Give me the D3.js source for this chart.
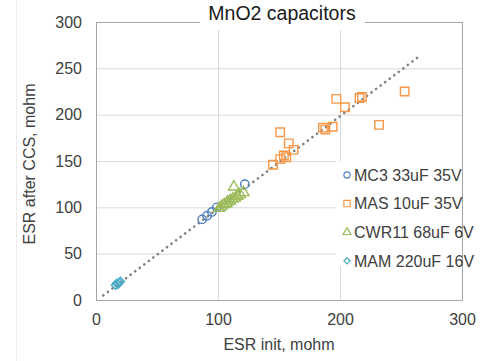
<!DOCTYPE html>
<html>
<head>
<meta charset="utf-8">
<script src="https://cdn.jsdelivr.net/npm/d3@7"></script>
<style>
  html, body { margin: 0; padding: 0; background: #fff; }
  svg { display: block; font-family: "Liberation Sans", Arial, sans-serif; }
</style>
</head>
<body>
<svg id="chart" width="497" height="361"></svg>
<script>
// ESR before and after current-surge screening, in mohm: [init, after]
const mc3 = [[87, 87], [91, 91], [95, 95], [99, 100], [122, 125]];
const mas = [
  [145, 146], [151, 152], [154, 156], [156, 154], [158, 169], [162, 162],
  [151, 181], [186, 186], [188, 184], [194, 187], [197, 217], [204, 208],
  [216, 218], [218, 219], [232, 189], [253, 225]
];
const cwr11 = [
  [101, 99], [103, 101], [105, 103], [107, 104], [108, 106], [110, 107],
  [112, 109], [114, 110], [116, 112], [118, 114], [121, 116], [113, 122]
];
const mam = [[16, 16], [17, 18], [18, 17], [19, 19], [20, 20]];

const seriesNames = ["MC3 33uF 35V", "MAS 10uF 35V", "CWR11 68uF 6V", "MAM 220uF 16V"];
const seriesColors = ["#4F81BD", "#F79646", "#9BBB59", "#4BACC6"];
const seriesShapes = ["circle", "square", "triangle", "diamond"];
const seriesData = [mc3, mas, cwr11, mam];

const xTicks = [0, 100, 200, 300];
const yTicks = [0, 50, 100, 150, 200, 250, 300];
const trendEnds = [[6, 5], [265, 263]];

const chartTitle = "MnO2 capacitors";
const xTitle = "ESR init, mohm";
const yTitle = "ESR after CCS, mohm";

const svg = d3.select("#chart");
const plot = { left: 96, right: 462, top: 22, bottom: 300 };

const x = d3.scaleLinear().domain([0, 300]).range([plot.left, plot.right]);
const y = d3.scaleLinear().domain([0, 300]).range([plot.bottom, plot.top]);

// faint outer frame edge
svg.append("line")
  .attr("x1", 16.5).attr("x2", 16.5).attr("y1", 0).attr("y2", 361)
  .attr("stroke", "#ececec").attr("stroke-width", 1);

// gridlines
svg.append("g")
  .attr("transform", `translate(0,${plot.bottom})`)
  .call(d3.axisBottom(x).tickValues(xTicks.slice(1, -1)).tickSize(-(plot.bottom - plot.top)).tickFormat(""))
  .call(g => g.select(".domain").remove())
  .call(g => g.selectAll("line").attr("stroke", "#d9d9d9"));
svg.append("g")
  .attr("transform", `translate(${plot.left},0)`)
  .call(d3.axisLeft(y).tickValues(yTicks.slice(1, -1)).tickSize(-(plot.right - plot.left)).tickFormat(""))
  .call(g => g.select(".domain").remove())
  .call(g => g.selectAll("line").attr("stroke", "#d9d9d9"));

// plot border
svg.append("rect")
  .attr("x", plot.left + 0.5).attr("y", plot.top + 0.5)
  .attr("width", plot.right - plot.left).attr("height", plot.bottom - plot.top)
  .attr("fill", "none").attr("stroke", "#a6a6a6").attr("stroke-width", 1);

// tick labels
svg.append("g")
  .attr("transform", `translate(0,${plot.bottom})`)
  .call(d3.axisBottom(x).tickValues(xTicks).tickSize(0).tickPadding(14))
  .call(g => g.select(".domain").remove())
  .call(g => g.selectAll("text").attr("font-size", 16).attr("fill", "#404040")
    .attr("font-family", "Liberation Sans, Arial, sans-serif"));
svg.append("g")
  .attr("transform", `translate(${plot.left},0)`)
  .call(d3.axisLeft(y).tickValues(yTicks).tickSize(0).tickPadding(14))
  .call(g => g.select(".domain").remove())
  .call(g => g.selectAll("text").attr("font-size", 16).attr("fill", "#404040")
    .attr("font-family", "Liberation Sans, Arial, sans-serif"));

// linear trend line
svg.append("line")
  .attr("x1", x(trendEnds[0][0])).attr("y1", y(trendEnds[0][1]))
  .attr("x2", x(trendEnds[1][0])).attr("y2", y(trendEnds[1][1]))
  .attr("stroke", "#7f7f7f").attr("stroke-width", 2.6)
  .attr("stroke-linecap", "round").attr("stroke-dasharray", "0.1 5.6");

const symbolTypes = {
  circle: d3.symbolCircle,
  square: d3.symbolSquare,
  triangle: d3.symbolTriangle,
  diamond: d3.symbolDiamond2
};
const symbolSizes = { circle: 55, square: 72, triangle: 50, diamond: 44 };

function markerPath(shape, scale) {
  return d3.symbol().type(symbolTypes[shape]).size(symbolSizes[shape] * scale)();
}

// series markers
seriesData.forEach((data, i) => {
  svg.append("g").selectAll("path")
    .data(data)
    .join("path")
    .attr("transform", d => `translate(${x(d[0])},${y(d[1])})`)
    .attr("d", markerPath(seriesShapes[i], 1))
    .attr("fill", "none")
    .attr("stroke", seriesColors[i])
    .attr("stroke-width", 1.4);
});

// title with white backing over the border
svg.append("rect").attr("x", 200).attr("y", 0).attr("width", 165).attr("height", 30).attr("fill", "#fff");
svg.append("text")
  .attr("x", 282).attr("y", 20)
  .attr("text-anchor", "middle")
  .attr("font-size", 19.5).attr("fill", "#1a1a1a")
  .text(chartTitle);

// axis titles
svg.append("text")
  .attr("x", 279).attr("y", 350)
  .attr("text-anchor", "middle")
  .attr("font-size", 16).attr("fill", "#404040")
  .text(xTitle);
svg.append("text")
  .attr("transform", "translate(35,164) rotate(-90)")
  .attr("text-anchor", "middle")
  .attr("font-size", 16).attr("fill", "#404040")
  .text(yTitle);

// legend
const legend = svg.append("g");
legend.append("rect")
  .attr("x", 336).attr("y", 161).attr("width", 126).attr("height", 105)
  .attr("fill", "#fff");
const legendRows = legend.selectAll("g.row")
  .data(seriesNames)
  .join("g")
  .attr("class", "row")
  .attr("transform", (d, i) => `translate(347,${175 + i * 28.6})`);
legendRows.append("path")
  .attr("d", (d, i) => markerPath(seriesShapes[i], 0.55))
  .attr("fill", "none")
  .attr("stroke", (d, i) => seriesColors[i])
  .attr("stroke-width", 1.2);
legendRows.append("text")
  .attr("x", 7).attr("y", 0)
  .attr("dy", "0.36em")
  .attr("font-size", 16).attr("fill", "#404040")
  .text(d => d);
</script>
</body>
</html>
